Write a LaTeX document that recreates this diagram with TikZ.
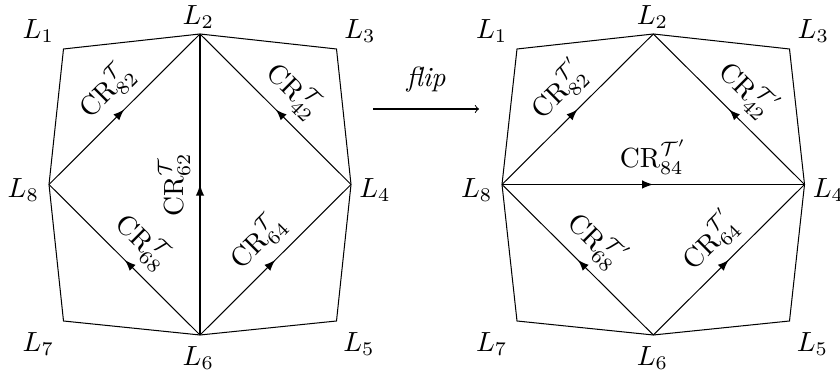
\documentclass[tikz,border=0pt]{standalone}
\usetikzlibrary{decorations.markings}
\begin{document}
\begin{tikzpicture}[x=0.4875pt,y=-0.4875pt,line width=0.5pt,
  every node/.append style={scale=1.35},
  midarrow/.style={postaction={decorate},decoration={markings,mark=at position 0.5 with {\arrow[scale=1.25]{latex}}}},
  vlbl/.style={inner sep=0pt,anchor=center},
  elbl/.style={sloped,above}]
\useasboundingbox (0,0) rectangle (840,374);
% left octagon
\coordinate (a1) at (63.5,49);
\coordinate (a2) at (200,34);
\coordinate (a3) at (336.5,49);
\coordinate (a4) at (351,184.5);
\coordinate (a5) at (336.5,321);
\coordinate (a6) at (200,335);
\coordinate (a7) at (63.5,321);
\coordinate (a8) at (49,184.5);
\draw (a1) -- (a2) -- (a3) -- (a4) -- (a5) -- (a6) -- (a7) -- (a8) -- cycle;
\draw[midarrow] (a8) -- node[elbl] (e82) {$\mathrm{CR}^{\mathcal{T}}_{82}$} (a2);
\draw[midarrow] (a4) -- node[elbl] (e42) {$\mathrm{CR}^{\mathcal{T}}_{42}$} (a2);
\draw[midarrow] (a6) -- node[elbl] (e62) {$\mathrm{CR}^{\mathcal{T}}_{62}$} (a2);
\draw[midarrow] (a6) -- node[elbl] (e68) {$\mathrm{CR}^{\mathcal{T}}_{68}$} (a8);
\draw[midarrow] (a6) -- node[elbl] (e64) {$\mathrm{CR}^{\mathcal{T}}_{64}$} (a4);
\node[vlbl] (la1) at (38.3,31.3) {$L_1$};
\node[vlbl] (la2) at (198.3,16.7) {$L_2$};
\node[vlbl] (la3) at (360,31.3) {$L_3$};
\node[vlbl] (la4) at (375,190) {$L_4$};
\node[vlbl] (la5) at (359,344) {$L_5$};
\node[vlbl] (la6) at (198.3,358) {$L_6$};
\node[vlbl] (la7) at (38.3,344) {$L_7$};
\node[vlbl] (la8) at (23.3,190) {$L_8$};
% flip arrow
\coordinate (fa) at (373,109);
\coordinate (fb) at (479,109);
\draw[-{to[scale=1.3]}] (fa) -- node[midway,above=2.5pt] (fl) {\textit{flip}} (fb);
% right octagon
\coordinate (b1) at (517,49);
\coordinate (b2) at (653.3,34);
\coordinate (b3) at (789.5,49);
\coordinate (b4) at (804.5,184.5);
\coordinate (b5) at (789.5,321);
\coordinate (b6) at (653.3,335);
\coordinate (b7) at (517,321);
\coordinate (b8) at (502,184.5);
\draw (b1) -- (b2) -- (b3) -- (b4) -- (b5) -- (b6) -- (b7) -- (b8) -- cycle;
\draw[midarrow] (b8) -- node[elbl] (f82) {$\mathrm{CR}^{\mathcal{T}'}_{82}$} (b2);
\draw[midarrow] (b4) -- node[elbl] (f42) {$\mathrm{CR}^{\mathcal{T}'}_{42}$} (b2);
\draw[midarrow] (b8) -- node[elbl] (f84) {$\mathrm{CR}^{\mathcal{T}'}_{84}$} (b4);
\draw[midarrow] (b6) -- node[elbl] (f68) {$\mathrm{CR}^{\mathcal{T}'}_{68}$} (b8);
\draw[midarrow] (b6) -- node[elbl] (f64) {$\mathrm{CR}^{\mathcal{T}'}_{64}$} (b4);
\node[vlbl] (lb1) at (491.7,31.3) {$L_1$};
\node[vlbl] (lb2) at (652.5,16.7) {$L_2$};
\node[vlbl] (lb3) at (813.3,31.3) {$L_3$};
\node[vlbl] (lb4) at (828.5,190) {$L_4$};
\node[vlbl] (lb5) at (812.5,344) {$L_5$};
\node[vlbl] (lb6) at (652.5,358) {$L_6$};
\node[vlbl] (lb7) at (491.7,344) {$L_7$};
\node[vlbl] (lb8) at (476.7,190) {$L_8$};
\end{tikzpicture}
\end{document}
